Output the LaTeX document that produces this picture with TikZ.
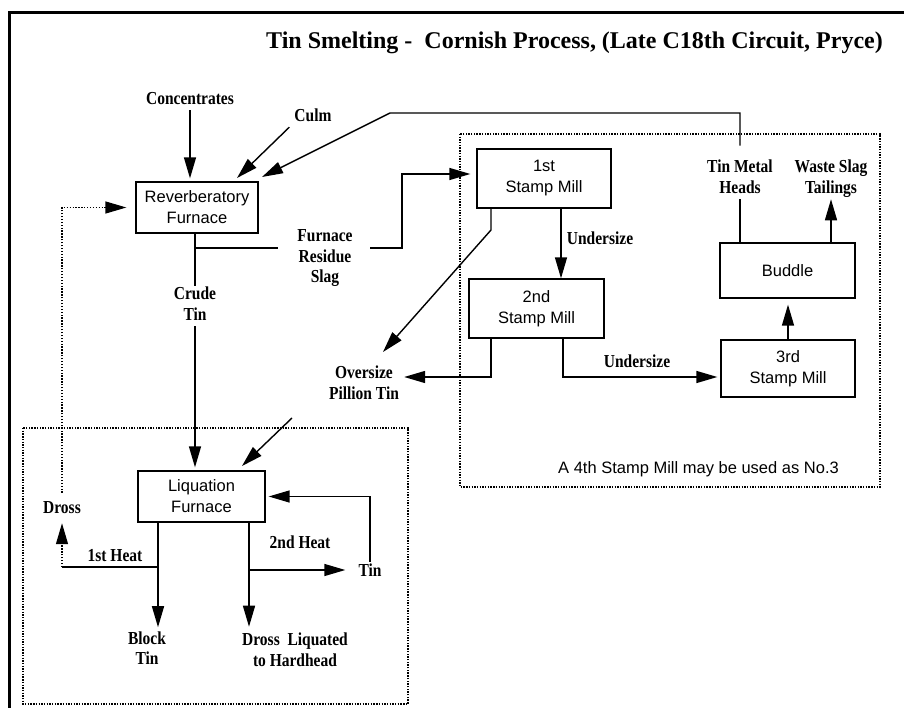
\documentclass[tikz,border=0pt]{standalone}
\usepackage{fontspec}
\usepackage{graphicx}
\setmainfont{Liberation Serif}
\setsansfont{Liberation Sans}
\usetikzlibrary{arrows.meta,calc}
\newcommand{\vlbl}[1]{\scalebox{1}[1.18]{\begin{tabular}{@{}c@{}}#1\end{tabular}}}
\begin{document}
\begin{tikzpicture}[x=1pt,y=-1pt,
  conn/.style={line width=1.4pt},
  arr/.style={conn,-{Triangle[length=21pt,width=12pt]}},
  dotline/.style={line width=1.3pt,dash pattern=on 1.3pt off 1.6pt},
  box/.style={draw,line width=1.3pt,inner sep=0pt,align=center,font=\sffamily\fontsize{16.5}{21}\selectfont},
  lbl/.style={inner sep=0pt,font=\bfseries\fontsize{15.5}{17}\selectfont},
  grp/.style={line width=1.4pt,dash pattern=on 1.4pt off 1.3pt},
]
\useasboundingbox (0,0) rectangle (904,708);
\fill[white] (0,0) rectangle (904,708);
\draw[line width=3pt] (9,708) -- (9,13) -- (904,13);

% group frames
\draw[grp] (23,428) rectangle (408,704);
\draw[grp] (460,134) rectangle (880,487);

% title
\node[inner sep=0pt,font=\bfseries\fontsize{24}{28}\selectfont] (title) at (574.5,43) {Tin Smelting - \ Cornish Process, (Late C18th Circuit, Pryce)};

% boxes
\node[box,minimum width=122pt,minimum height=51pt] (rev) at (197,207.5) {Reverberatory\\Furnace};
\node[box,minimum width=127pt,minimum height=51pt] (liq) at (201.5,496.5) {Liquation\\Furnace};
\node[box,minimum width=134pt,minimum height=59pt] (m1) at (544,178.5) {1st\\Stamp Mill};
\node[box,minimum width=135pt,minimum height=59pt] (m2) at (536.5,308.5) {2nd\\Stamp Mill};
\node[box,minimum width=134pt,minimum height=57pt] (m3) at (788,368.5) {3rd\\Stamp Mill};
\node[box,minimum width=135pt,minimum height=55pt] (bud) at (787.5,270.5) {Buddle};

% labels
\node[lbl] (conc) at (190,100) {\vlbl{Concentrates}};
\node[lbl] (culm) at (313,117) {\vlbl{Culm}};
\node[lbl] (heads) at (740,179) {\vlbl{Tin Metal\\Heads}};
\node[lbl] (tail) at (831,179) {\vlbl{Waste Slag\\Tailings}};
\node[lbl] (slag) at (325,258) {\vlbl{Furnace\\Residue\\Slag}};
\node[lbl] (crude) at (195,306) {\vlbl{Crude\\Tin}};
\node[lbl] (over) at (364,385) {\vlbl{Oversize\\Pillion Tin}};
\node[lbl] (und1) at (600,240) {\vlbl{Undersize}};
\node[lbl] (und2) at (637,363) {\vlbl{Undersize}};
\node[lbl] (dross) at (62,509) {\vlbl{Dross}};
\node[lbl] (heat1) at (115,557) {\vlbl{1st Heat}};
\node[lbl] (heat2) at (300,544) {\vlbl{2nd Heat}};
\node[lbl] (tin) at (370,572) {\vlbl{Tin}};
\node[lbl] (block) at (147,650.5) {\vlbl{Block\\Tin}};
\node[lbl] (dlh) at (295,652) {\vlbl{Dross\ \ Liquated\\to Hardhead}};
\node[inner sep=0pt,font=\sffamily\fontsize{16.5}{20}\selectfont] (note) at (698.5,469) {A 4th Stamp Mill may be used as No.3};

% coordinates
\coordinate (culmtip) at (237,178);
\coordinate (hk) at (390,113);
\coordinate (headtip) at (262,177);
\coordinate (sj) at (195,248);
\coordinate (s1) at (278,248);
\coordinate (s2) at (370,248);
\coordinate (s3) at (402,174);
\coordinate (ld0) at (292,418);
\coordinate (ldt) at (242,466);
\coordinate (xa) at (158,0);
\coordinate (xb) at (249,0);
\coordinate (j1) at (158,567);
\coordinate (j2) at (249,570);
\coordinate (xc) at (491,0);
\coordinate (k1) at (491,230);
\coordinate (ot) at (383,352);
\coordinate (k2) at (491,377);
\coordinate (xu) at (561,0);
\coordinate (k3) at (563,377);

% reverberatory inputs
\draw[arr,shorten >=3pt] (conc.south) -- (conc.south |- rev.north);
\draw[arr] ($(culm.south west)+(-5,0)$) -- (culmtip);
\draw[arr,shorten <=13pt] (heads.north) |- (hk) -- (headtip);
\draw[dotline,-{Triangle[length=21pt,width=12pt]},shorten <=6pt,shorten >=9pt] (dross.north) |- (rev.west);

% reverberatory outputs
\draw[conn] (rev.south -| crude) -- (crude.north);
\draw[arr,shorten >=3pt] (crude.south) -- (crude.south |- liq.north);
\draw[conn] (sj) -- (s1);
\draw[arr,shorten >=6pt] (s2) -| (s3) -- (s3 -| m1.west);

% liquation
\draw[arr] (ld0) -- (ldt);
\draw[arr,shorten >=3pt] (tin.north) |- (liq.east);
\draw[arr,shorten >=5pt] (liq.south -| xb) -- (dlh.north -| xb);
\draw[arr,shorten >=13pt] (j2) -- (j2 -| tin.west);
\draw[arr,shorten >=3pt] (liq.south -| xa) -- (block.north -| xa);
\draw[conn] (j1) -- (j1 -| dross);
\draw[dotline,-{Triangle[length=21pt,width=12pt]},shorten >=4pt] (j1 -| dross) -- (dross.south);

% stamp mills
\draw[arr] (m1.south -| xc) -- (k1) -- (ot);
\draw[arr,shorten >=5pt] (m2.south -| xc) -- (k2) -- (k2 -| over.east);
\draw[arr] (m1.south -| xu) -- (m2.north -| xu);
\draw[arr,shorten >=3pt] (m2.south -| k3) -- (k3) -- (k3 -| m3.west);
\draw[arr,shorten >=6pt] (m3.north) -- (m3.north |- bud.south);
\draw[conn] (bud.north -| heads) -- (heads.south);
\draw[arr] (bud.north -| tail) -- (tail.south);
\end{tikzpicture}
\end{document}
